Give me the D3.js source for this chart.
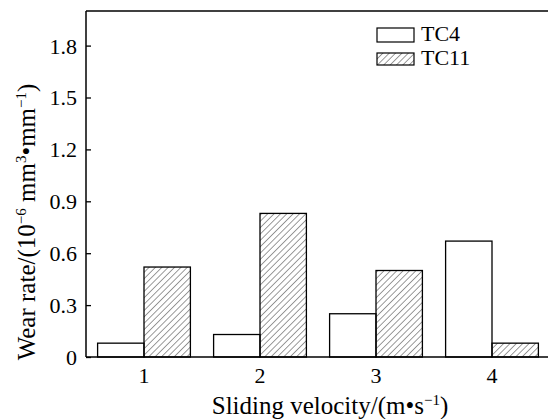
<!DOCTYPE html>
<html>
<head>
<meta charset="utf-8">
<script src="https://cdn.jsdelivr.net/npm/d3@7"></script>
<style>
  body { margin: 0; background: #fff; }
</style>
</head>
<body>
<div id="chart"></div>
<script>
// data
var velocities = ["1", "2", "3", "4"];
var seriesNames = ["TC4", "TC11"];
var tc4 = [0.08, 0.13, 0.25, 0.67];
var tc11 = [0.52, 0.83, 0.50, 0.08];
var yTicks = [0, 0.3, 0.6, 0.9, 1.2, 1.5, 1.8];

var width = 548, height = 419;
var margin = { top: 11, right: -2, bottom: 62, left: 86 };
var serif = "'Liberation Serif', serif";

var svg = d3.select('#chart').append('svg')
    .attr('width', width)
    .attr('height', height)
    .attr('font-family', serif);

// hatch pattern for TC11
var defs = svg.append('defs');
defs.append('pattern')
    .attr('id', 'hatch')
    .attr('patternUnits', 'userSpaceOnUse')
    .attr('width', 4.5)
    .attr('height', 4.5)
    .attr('patternTransform', 'rotate(45)')
  .append('line')
    .attr('x1', 0).attr('y1', 0)
    .attr('x2', 0).attr('y2', 4.5)
    .attr('stroke', '#222')
    .attr('stroke-width', 0.9);

var x = d3.scaleBand()
    .domain(velocities)
    .range([margin.left, width - margin.right])
    .paddingInner(0.2)
    .paddingOuter(0.1);

var xSub = d3.scaleBand()
    .domain(seriesNames)
    .range([0, x.bandwidth()]);

var y = d3.scaleLinear()
    .domain([0, 2.0])
    .range([height - margin.bottom, margin.top]);

// bars
var rows = velocities.map(function(v, i) {
    return { v: v, values: [{ s: "TC4", val: tc4[i] }, { s: "TC11", val: tc11[i] }] };
});

var groups = svg.append('g').selectAll('g')
    .data(rows)
    .enter().append('g')
        .attr('transform', function(d) { return 'translate(' + x(d.v) + ',0)'; });

groups.selectAll('rect')
    .data(function(d) { return d.values; })
    .enter().append('rect')
        .attr('x', function(d) { return xSub(d.s); })
        .attr('y', function(d) { return y(d.val); })
        .attr('width', xSub.bandwidth())
        .attr('height', function(d) { return y(0) - y(d.val); })
        .attr('fill', function(d) { return d.s === "TC4" ? '#fff' : 'url(#hatch)'; })
        .attr('stroke', '#000')
        .attr('stroke-width', 1.3);

// y axis, ticks pointing inward
var yAxis = svg.append('g')
    .attr('transform', 'translate(' + margin.left + ',0)')
    .call(d3.axisRight(y).tickValues(yTicks).tickSize(5).tickFormat(function(d) { return d === 0 ? "0" : d3.format(".1f")(d); }))
    .attr('font-family', serif);
yAxis.select('.domain').remove();
yAxis.selectAll('line').attr('stroke', '#000').attr('stroke-width', 1.3);
yAxis.selectAll('text')
    .attr('x', -9)
    .attr('text-anchor', 'end')
    .attr('dy', '0.34em')
    .attr('fill', '#000')
    .style('font-size', '22px');

// x axis labels, no tick marks
var xAxis = svg.append('g')
    .attr('transform', 'translate(0,' + y(0) + ')')
    .call(d3.axisBottom(x).tickSize(0))
    .attr('font-family', serif);
xAxis.select('.domain').remove();
xAxis.selectAll('text')
    .attr('x', function(d) { return xSub.bandwidth() - x.bandwidth() / 2; })
    .attr('y', 26)
    .attr('dy', 0)
    .attr('fill', '#000')
    .style('font-size', '22px');

// frame lines: left, bottom, top
svg.append('path')
    .attr('d', 'M' + margin.left + ',' + margin.top + 'V' + y(0))
    .attr('stroke', '#000').attr('stroke-width', 1.5);
svg.append('path')
    .attr('d', 'M' + margin.left + ',' + y(0) + 'H' + width)
    .attr('stroke', '#000').attr('stroke-width', 1.5);
svg.append('path')
    .attr('d', 'M' + margin.left + ',' + margin.top + 'H' + width)
    .attr('stroke', '#000').attr('stroke-width', 1.5);

// x axis title
var xt = svg.append('text')
    .attr('x', 330)
    .attr('y', 414)
    .attr('text-anchor', 'middle')
    .style('font-size', '25px');
xt.append('tspan').text('Sliding velocity/(m\u2022s');
xt.append('tspan').attr('dy', -9).style('font-size', '15px').text('\u22121');
xt.append('tspan').attr('dy', 9).text(')');

// y axis title
var yt = svg.append('text')
    .attr('transform', 'translate(35,222) rotate(-90)')
    .attr('text-anchor', 'middle')
    .style('font-size', '25px');
yt.append('tspan').text('Wear rate/(10');
yt.append('tspan').attr('dy', -9).style('font-size', '15px').text('\u22126');
yt.append('tspan').attr('dy', 9).text(' mm');
yt.append('tspan').attr('dy', -9).style('font-size', '15px').text('3');
yt.append('tspan').attr('dy', 9).text('\u2022mm');
yt.append('tspan').attr('dy', -9).style('font-size', '15px').text('\u22121');
yt.append('tspan').attr('dy', 9).text(')');

// legend
var legend = svg.append('g').attr('transform', 'translate(377,28)');
seriesNames.forEach(function(s, i) {
    var row = legend.append('g').attr('transform', 'translate(0,' + (i * 24) + ')');
    row.append('rect')
        .attr('y', i === 0 ? 0 : 1)
        .attr('width', 37)
        .attr('height', i === 0 ? 14 : 12)
        .attr('fill', s === "TC4" ? '#fff' : 'url(#hatch)')
        .attr('stroke', '#000')
        .attr('stroke-width', 1.2);
    row.append('text')
        .attr('x', 44)
        .attr('y', 13)
        .style('font-size', '22px')
        .text(s);
});
</script>
</body>
</html>
